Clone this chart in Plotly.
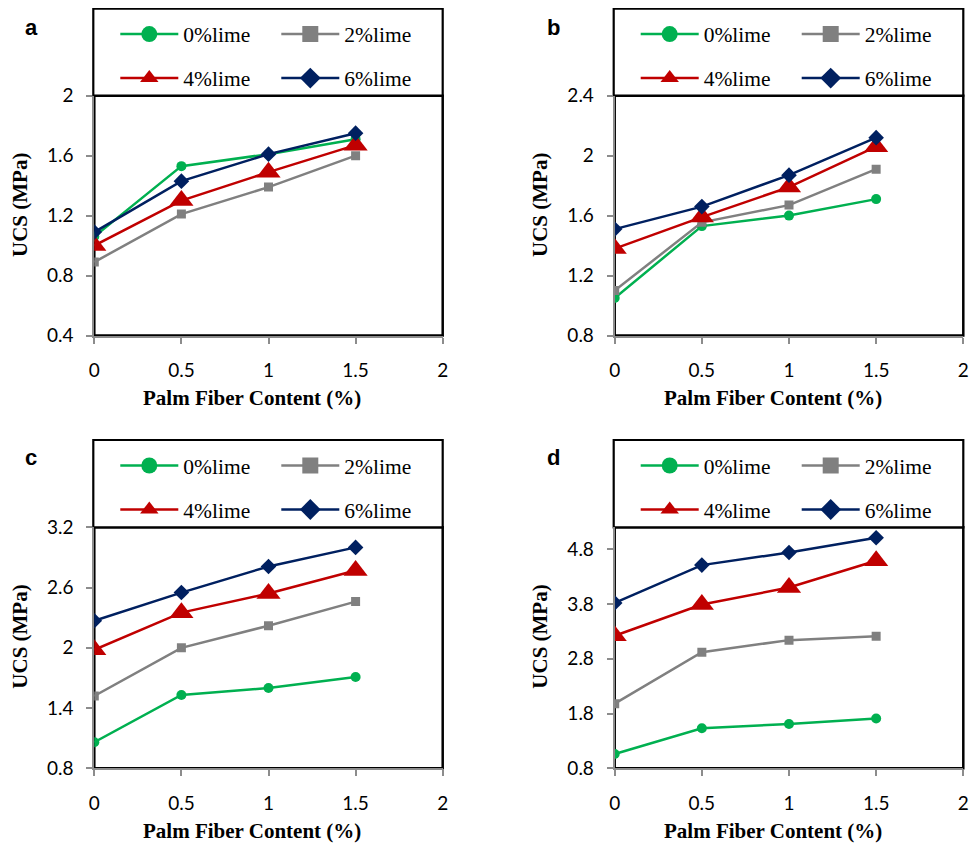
import plotly.graph_objects as go

# page body has an 8px margin, so the figure is drawn 8px in from the window edge
OFF = 8
W, H = 978 - OFF, 843 - OFF

# ---------------- data ----------------
fiber = [0, 0.5, 1, 1.5]
series_names = ["0%lime", "2%lime", "4%lime", "6%lime"]
panel_labels = ["a", "b", "c", "d"]

ucs_a_0 = [1.06, 1.53, 1.61, 1.71]
ucs_a_2 = [0.89, 1.21, 1.39, 1.60]
ucs_a_4 = [1.00, 1.30, 1.49, 1.67]
ucs_a_6 = [1.09, 1.43, 1.61, 1.75]

ucs_b_0 = [1.05, 1.53, 1.60, 1.71]
ucs_b_2 = [1.10, 1.555, 1.67, 1.91]
ucs_b_4 = [1.38, 1.59, 1.79, 2.06]
ucs_b_6 = [1.51, 1.66, 1.87, 2.12]

ucs_c_0 = [1.06, 1.53, 1.60, 1.71]
ucs_c_2 = [1.52, 2.00, 2.22, 2.46]
ucs_c_4 = [1.98, 2.35, 2.54, 2.77]
ucs_c_6 = [2.27, 2.55, 2.81, 3.00]

ucs_d_0 = [1.06, 1.53, 1.61, 1.71]
ucs_d_2 = [1.98, 2.92, 3.14, 3.21]
ucs_d_4 = [3.22, 3.79, 4.10, 4.59]
ucs_d_6 = [3.82, 4.51, 4.74, 5.01]

y_ranges = [[0.4, 2.0], [0.8, 2.4], [0.8, 3.2], [0.8, 5.2]]
y_dticks = [0.4, 0.4, 0.6, 1.0]
x_range = [0, 2]
x_dtick = 0.5

panels = [
    [ucs_a_0, ucs_a_2, ucs_a_4, ucs_a_6],
    [ucs_b_0, ucs_b_2, ucs_b_4, ucs_b_6],
    [ucs_c_0, ucs_c_2, ucs_c_4, ucs_c_6],
    [ucs_d_0, ucs_d_2, ucs_d_4, ucs_d_6],
]

# ---------------- styles ----------------
colors = ["#00B050", "#808080", "#C00000", "#002060"]
symbols = ["circle", "square", "triangle-up", "diamond"]
plot_sizes = [10, 9, 21, 12]
AXIS_GRAY = "#8C8C8C"
SERIF = "Liberation Serif"
SANS = "Lato"


def px_x(px):
    return (px - OFF) / W


def px_y(py):
    return 1 - (py - OFF) / H


# plot-area pixel boxes (left, right, top, bottom) in window pixels
boxes = [
    (94.3, 442.7, 95.7, 335.5),
    (614.7, 963.3, 95.7, 335.5),
    (94.3, 442.7, 527.3, 768.3),
    (614.7, 963.3, 527.3, 768.3),
]
# legend boxes (left, right, top, bottom)
leg_boxes = [
    (93.3, 442.7, 8.6, 95.7),
    (613.7, 963.3, 8.6, 95.7),
    (93.3, 442.7, 440.0, 527.3),
    (613.7, 963.3, 440.0, 527.3),
]
row_offsets = [25.5, 69.5]  # row centres below legend top

fig = go.Figure()
layout = dict(
    width=W, height=H,
    margin=dict(l=0, r=0, t=0, b=0, autoexpand=False),
    paper_bgcolor="white", plot_bgcolor="white",
    showlegend=True,
    shapes=[], annotations=[],
)

for p in range(4):
    xa = "x" if p == 0 else f"x{p+1}"
    ya = "y" if p == 0 else f"y{p+1}"
    xkey = "xaxis" if p == 0 else f"xaxis{p+1}"
    ykey = "yaxis" if p == 0 else f"yaxis{p+1}"
    l, r, t, b = boxes[p]
    layout[xkey] = dict(
        domain=[px_x(l), px_x(r)], range=x_range, tick0=0, dtick=x_dtick,
        anchor=ya, showgrid=False, zeroline=False, automargin=False,
        showline=True, linecolor=AXIS_GRAY, linewidth=2,
        ticks="outside", ticklen=6, tickcolor=AXIS_GRAY, tickwidth=1.5,
        ticklabelstandoff=11,
        tickfont=dict(family=SANS, size=19, color="black"),
    )
    layout[ykey] = dict(
        domain=[px_y(b), px_y(t)], range=y_ranges[p], tick0=y_ranges[p][0],
        dtick=y_dticks[p], anchor=xa, showgrid=False, zeroline=False,
        automargin=False,
        showline=True, linecolor=AXIS_GRAY, linewidth=2,
        ticks="outside", ticklen=6, tickcolor=AXIS_GRAY, tickwidth=1.5,
        ticklabelstandoff=9,
        tickfont=dict(family=SANS, size=19, color="black"),
    )
    # plot-area frame
    layout["shapes"].append(dict(
        type="rect", xref=f"{xa} domain", yref=f"{ya} domain",
        x0=0, x1=1, y0=0, y1=1, line=dict(color="black", width=2.5),
        layer="below",
    ))
    # legend frame
    ll, lr, lt, lb = leg_boxes[p]
    layout["shapes"].append(dict(
        type="rect", xref="paper", yref="paper",
        x0=px_x(ll), x1=px_x(lr), y0=px_y(lb), y1=px_y(lt),
        line=dict(color="black", width=2.2), fillcolor="white", layer="below",
    ))
    # legends (two rows per panel)
    for row in range(2):
        lid = p * 2 + row + 1
        lkey = "legend" if lid == 1 else f"legend{lid}"
        layout[lkey] = dict(
            orientation="h", x=px_x(ll + 22), xanchor="left",
            y=px_y(lt + row_offsets[row]), yanchor="middle",
            bgcolor="rgba(0,0,0,0)", borderwidth=0,
            itemwidth=58, entrywidth=88, entrywidthmode="pixels",
            font=dict(family=SERIF, size=21.5, color="black"),
            itemclick=False, itemdoubleclick=False,
        )
    # data traces
    for s in range(4):
        fig.add_trace(go.Scatter(
            x=fiber, y=panels[p][s], mode="lines+markers",
            name=series_names[s], xaxis=xa, yaxis=ya,
            line=dict(color=colors[s], width=2.5),
            marker=dict(symbol=symbols[s], size=plot_sizes[s], color=colors[s]),
            showlegend=False,
        ))
    # legend entries (row 1: 0%, 2%; row 2: 4%, 6%)
    for s in range(4):
        lid = p * 2 + (s // 2) + 1
        lkey = "legend" if lid == 1 else f"legend{lid}"
        fig.add_trace(go.Scatter(
            x=[None], y=[None], mode="lines+markers",
            name=series_names[s], xaxis=xa, yaxis=ya,
            line=dict(color=colors[s], width=2.5),
            marker=dict(symbol=symbols[s], size=20, color=colors[s]),
            legend=lkey, showlegend=True,
        ))
    # axis titles
    title_font = dict(family=SERIF, size=21, color="black")
    ycx = 20 if p % 2 == 0 else 540
    ycy = 205 if p < 2 else 636.7
    layout["annotations"].append(dict(
        text="<b>UCS (MPa)</b>", xref="paper", yref="paper",
        x=px_x(ycx), y=px_y(ycy), xanchor="center", yanchor="middle",
        textangle=-90, showarrow=False, font=title_font,
    ))
    xcx = 251.7 if p % 2 == 0 else 772.8
    xcy = 398 if p < 2 else 830.7
    layout["annotations"].append(dict(
        text="<b>Palm Fiber Content (%)</b>", xref="paper", yref="paper",
        x=px_x(xcx), y=px_y(xcy), xanchor="center", yanchor="middle",
        showarrow=False, font=title_font,
    ))
    # panel letter
    lx = 31 if p % 2 == 0 else 553
    ly = 27 if p < 2 else 457
    layout["annotations"].append(dict(
        text=f"<b>{panel_labels[p]}</b>", xref="paper", yref="paper",
        x=px_x(lx), y=px_y(ly), xanchor="center", yanchor="middle",
        showarrow=False, font=dict(family="Liberation Sans", size=22, color="black"),
    ))

fig.update_layout(**layout)
fig.write_html("out.html")
